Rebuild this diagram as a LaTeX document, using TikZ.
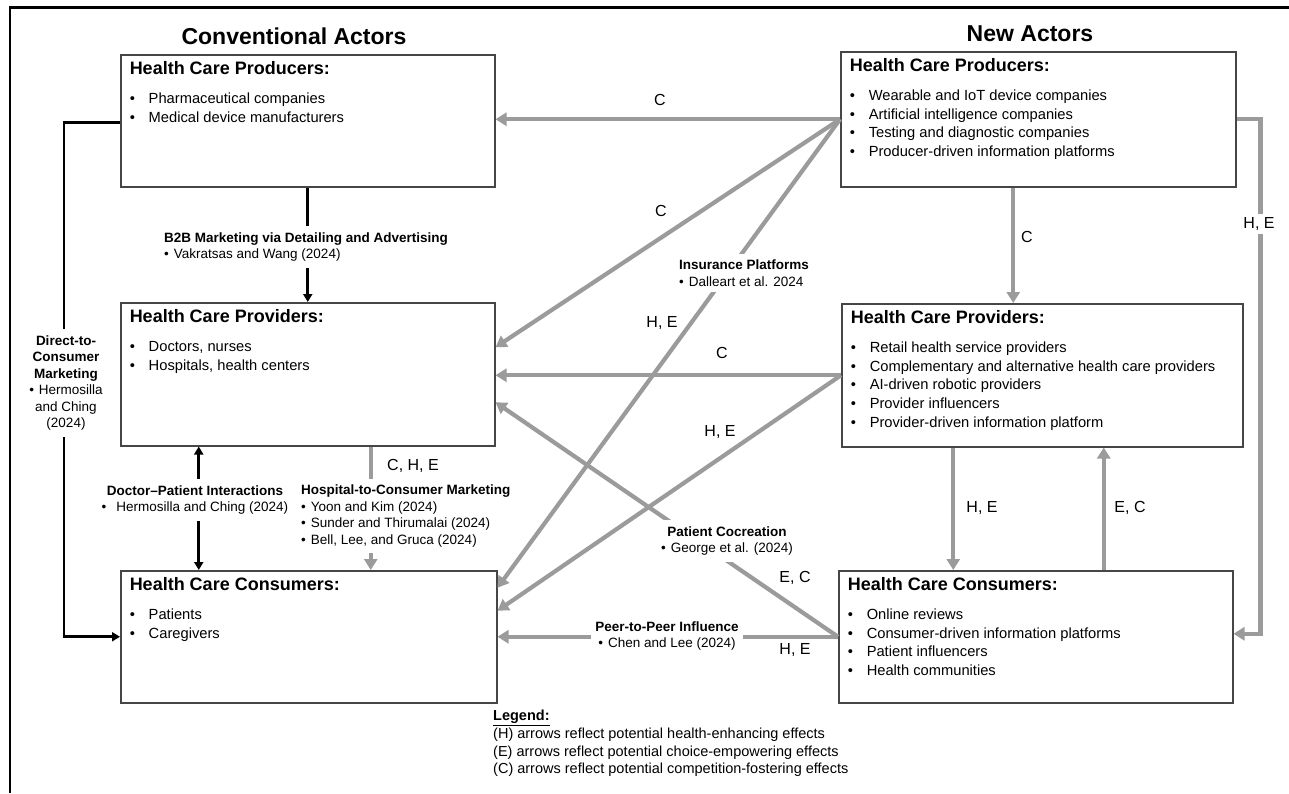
\documentclass[tikz,border=0pt]{standalone}
\usepackage{fontspec}
\setmainfont{Liberation Sans}
\usetikzlibrary{arrows.meta,positioning}
\definecolor{arrowgray}{RGB}{155,155,155}
\definecolor{boxgray}{RGB}{70,70,70}
\newcommand{\bul}{\makebox[19pt][l]{\textbullet}}
\newcommand{\refbul}{\textbullet\hspace{5pt}}
\newcommand{\boxtitle}[1]{{\bfseries\fontsize{18}{21}\selectfont #1\par}\vspace{10pt}}
\tikzset{
    >={Triangle[length=8pt,width=9pt]},
    actor-box/.style = {draw=boxgray, line width=1.5pt, rectangle, anchor=north west, inner xsep=9pt, inner ysep=7pt, font=\fontsize{14.7}{18.7}\selectfont},
    column-title/.style = {font=\bfseries\fontsize{23}{26}\selectfont},
    gray-arrow/.style = {draw=arrowgray, line width=4.2pt, -{Triangle[length=11pt,width=13pt]}},
    black-arrow/.style = {draw=black, line width=2.8pt, ->},
    flow-label/.style = {fill=white, align=center, inner xsep=4pt, inner ysep=6pt, font=\fontsize{13.5}{16.5}\selectfont},
    effect-label/.style = {font=\fontsize{16}{18}\selectfont},
    frame-line/.style = {draw=black, line width=2.5pt},
}

\begin{document}
\begin{tikzpicture}[x=1pt,y=-1pt]
\useasboundingbox (0,0) rectangle (1289,793);
\draw[frame-line] (10,793) -- (10,7.5) -- (1289,7.5);

\node[column-title] (conv-title) at (294,36) {Conventional Actors};
\node[column-title] (new-title) at (1030,34) {New Actors};

% conventional actors
\node[actor-box] (cprod) at (120,54) {\begin{minipage}[t][118pt][t]{356pt}
    \boxtitle{Health Care Producers:}
    \bul Pharmaceutical companies\\
    \bul Medical device manufacturers
\end{minipage}};
\node[actor-box] (cprov) at (120,302) {\begin{minipage}[t][129pt][t]{356pt}
    \boxtitle{Health Care Providers:}
    \bul Doctors, nurses\\
    \bul Hospitals, health centers
\end{minipage}};
\node[actor-box] (ccons) at (120,570) {\begin{minipage}[t][118pt][t]{358pt}
    \boxtitle{Health Care Consumers:}
    \bul Patients\\
    \bul Caregivers
\end{minipage}};

% new actors
\node[actor-box] (nprod) at (840,51) {\begin{minipage}[t][121pt][t]{377pt}
    \boxtitle{Health Care Producers:}
    \bul Wearable and IoT device companies\\
    \bul Artificial intelligence companies\\
    \bul Testing and diagnostic companies\\
    \bul Producer-driven information platforms
\end{minipage}};
\node[actor-box] (nprov) at (841,303) {\begin{minipage}[t][129pt][t]{383pt}
    \boxtitle{Health Care Providers:}
    \bul Retail health service providers\\
    \bul Complementary and alternative health care providers\\
    \bul AI-driven robotic providers\\
    \bul Provider influencers\\
    \bul Provider-driven information platform
\end{minipage}};
\node[actor-box] (ncons) at (838,570) {\begin{minipage}[t][118pt][t]{376pt}
    \boxtitle{Health Care Consumers:}
    \bul Online reviews\\
    \bul Consumer-driven information platforms\\
    \bul Patient influencers\\
    \bul Health communities
\end{minipage}};

% gray arrows
\draw[gray-arrow] (nprod.west) -- (nprod.west -| cprod.east);
\draw[gray-arrow] (nprod.west) -- ([yshift=27pt]cprov.east);
\draw[gray-arrow] (nprod.west) -- ([yshift=49pt]ccons.east);
\draw[gray-arrow] (nprov.west) -- (nprov.west -| cprov.east);
\draw[gray-arrow] (nprov.west) -- ([yshift=26pt]ccons.east);
\draw[gray-arrow] (ncons.west) -- ([yshift=-28pt]cprov.east);
\draw[gray-arrow] (ncons.west) -- (ncons.west -| ccons.east);
\draw[gray-arrow] ([xshift=-25pt]nprod.south) -- ([xshift=-25pt]nprod.south |- nprov.north);
\draw[gray-arrow] (nprod.east) -- ++(24,0) |- ([yshift=3pt]ncons.east);
\draw[gray-arrow] ([xshift=-89pt]nprov.south) -- ([xshift=-89pt]nprov.south |- ncons.north);
\draw[gray-arrow] ([xshift=68pt]ncons.north) -- ([xshift=68pt]ncons.north |- nprov.south);
\draw[gray-arrow] ([xshift=63pt]cprov.south) -- ([xshift=63pt]cprov.south |- ccons.north);

% black arrows
\draw[black-arrow] (cprod.south) -- (cprov.north);
\draw[black-arrow] ([yshift=-2pt]cprod.west) -- ++(-56,0) |- (ccons.west);
\draw[black-arrow, <->] ([xshift=-109pt]cprov.south) -- ([xshift=-109pt]cprov.south |- ccons.north);

% flow labels
\node[flow-label, align=left] (b2b-lbl) at (306,247) {\textbf{B2B Marketing via Detailing and Advertising}\\\refbul Vakratsas and Wang (2024)};
\node[flow-label] (dtc-lbl) at (66,383) {\textbf{Direct-to-}\\\textbf{Consumer}\\\textbf{Marketing}\\\refbul Hermosilla\\and Ching\\(2024)};
\node[flow-label] (dp-lbl) at (195,500) {\textbf{Doctor--Patient Interactions}\\\textbullet\hspace{10pt}Hermosilla and Ching (2024)};
\node[flow-label, align=left, anchor=west] (h2c-lbl) at (297,516) {\textbf{Hospital-to-Consumer Marketing}\\\refbul Yoon and Kim (2024)\\\refbul Sunder and Thirumalai (2024)\\\refbul Bell, Lee, and Gruca (2024)};
\node[flow-label, align=left] (ins-lbl) at (744,273) {\textbf{Insurance Platforms}\\\refbul Dalleart et al. 2024};
\node[flow-label] (cocr-lbl) at (727,541) {\textbf{Patient Cocreation}\\\refbul George et al. (2024)};
\node[flow-label] (p2p-lbl) at (667,636) {\textbf{Peer-to-Peer Influence}\\\refbul Chen and Lee (2024)};

% effect labels
\node[effect-label] (lbl-np-cp) at (660,100) {C};
\node[effect-label] (lbl-np-cv) at (661,211) {C};
\node[effect-label] (lbl-np-cc) at (662,323) {H, E};
\node[effect-label] (lbl-nv-cv) at (722,353) {C};
\node[effect-label] (lbl-nv-cc) at (720,432) {H, E};
\node[effect-label] (lbl-nc-cv) at (795,578) {E, C};
\node[effect-label] (lbl-nc-cc) at (795,650) {H, E};
\node[effect-label] (lbl-np-nv) at (1027,237) {C};
\node[effect-label, fill=white] (lbl-np-nc) at (1259,224) {H, E};
\node[effect-label] (lbl-nv-nc) at (982,508) {H, E};
\node[effect-label] (lbl-nc-nv) at (1130,508) {E, C};
\node[effect-label] (lbl-cv-cc) at (413,466) {C, H, E};

% legend
\node[anchor=north west, inner sep=0pt, align=left, font=\fontsize{14.5}{17.7}\selectfont] (legend) at (493,710) {\underline{\textbf{Legend:}}\\(H) arrows reflect potential health-enhancing effects\\(E) arrows reflect potential choice-empowering effects\\(C) arrows reflect potential competition-fostering effects};
\end{tikzpicture}
\end{document}
